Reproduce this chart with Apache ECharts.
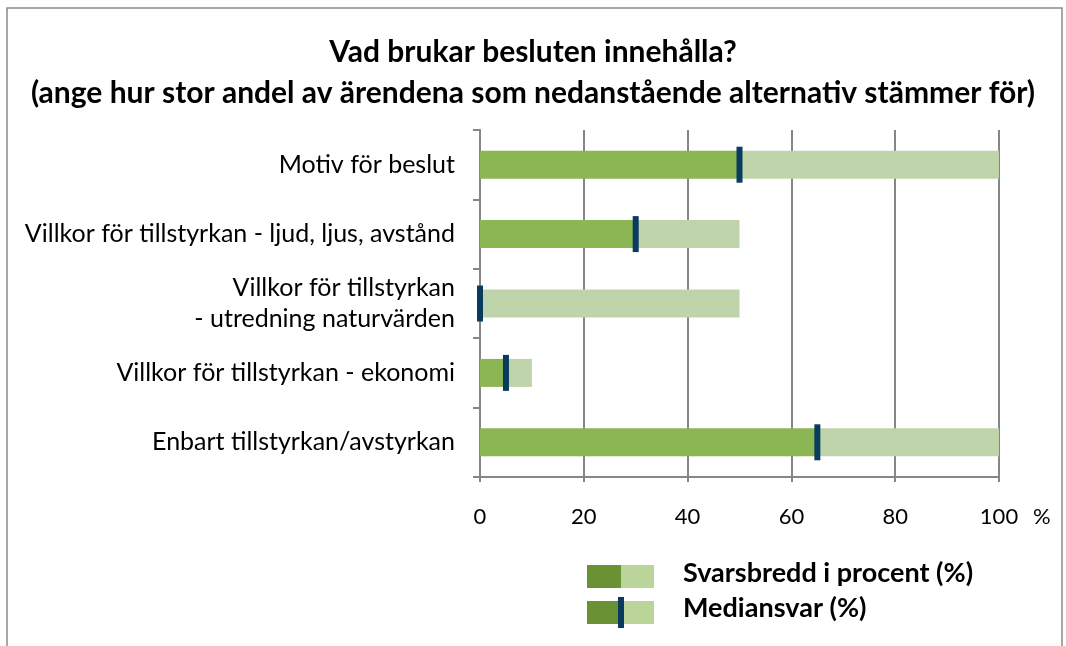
<!DOCTYPE html>
<html>
<head>
<meta charset="utf-8">
<script src="https://cdn.jsdelivr.net/npm/echarts@6/dist/echarts.min.js"></script>
<style>
  html, body { margin: 0; padding: 0; background: #fff; }
  #main { width: 1066px; height: 646px; }
</style>
</head>
<body>
<div id="main"></div>
<script>
// data
const categories = [
  'Motiv för beslut',
  'Villkor för tillstyrkan - ljud, ljus, avstånd',
  'Villkor för tillstyrkan\n- utredning naturvärden',
  'Villkor för tillstyrkan - ekonomi',
  'Enbart tillstyrkan/avstyrkan'
];
const medianValues = [50, 30, 0, 5, 65];
const maxValues = [100, 50, 50, 10, 100];
const xTicks = [0, 20, 40, 60, 80, 100];

const FONT = 'Lato, "Open Sans", sans-serif';
const darkGreen = '#8cb554';
const lightGreen = '#bfd4aa';
const navy = '#083b5e';

const chart = echarts.init(document.getElementById('main'));

const option = {
  animation: false,
  title: {
    text: 'Vad brukar besluten innehålla?\n(ange hur stor andel av ärendena som nedanstående alternativ stämmer för)',
    left: 'center',
    top: 27,
    textStyle: {
      fontFamily: FONT,
      fontSize: 30,
      fontWeight: 'bold',
      color: '#000',
      lineHeight: 41
    }
  },
  grid: { left: 480, right: 67, top: 130, bottom: 169 },
  xAxis: {
    type: 'value',
    min: 0,
    max: 100,
    interval: 20,
    axisLine: { show: true, lineStyle: { color: '#868686', width: 2 } },
    axisTick: { show: true, length: 5, lineStyle: { color: '#868686', width: 2 } },
    splitLine: { show: true, lineStyle: { color: '#868686', width: 2 } },
    axisLabel: {
      fontFamily: FONT, fontSize: 22, color: '#000', margin: 29,
      formatter: v => xTicks.includes(v) ? String(v) : ''
    }
  },
  yAxis: {
    type: 'category',
    data: categories,
    inverse: true,
    axisLine: { show: true, lineStyle: { color: '#868686', width: 2 } },
    axisTick: { show: true, length: 7, lineStyle: { color: '#868686', width: 2 } },
    axisLabel: {
      fontFamily: FONT, fontSize: 25, color: '#000', margin: 25,
      align: 'right', lineHeight: 31
    }
  },
  series: [
    {
      name: 'median',
      type: 'bar',
      stack: 'a',
      barWidth: 28,
      itemStyle: { color: darkGreen },
      data: medianValues
    },
    {
      name: 'range',
      type: 'bar',
      stack: 'a',
      barWidth: 28,
      itemStyle: { color: lightGreen },
      data: maxValues.map((m, i) => m - medianValues[i])
    },
    {
      name: 'Mediansvar',
      type: 'scatter',
      symbol: 'rect',
      symbolSize: [6, 36],
      itemStyle: { color: navy, opacity: 1 },
      z: 5,
      data: medianValues.map((v, i) => [v, categories[i]])
    }
  ],
  graphic: [
    // frame
    { type: 'rect', shape: { x: 7, y: 8, width: 1055, height: 660 },
      style: { fill: 'none', stroke: '#8a8a8a', lineWidth: 1.5 }, silent: true },
    // "%" unit
    { type: 'text', left: 1033, top: 506,
      style: { text: '%', fontFamily: FONT, fontSize: 22, fill: '#000' } },
    // legend
    { type: 'rect', shape: { x: 587, y: 565, width: 34, height: 23 }, style: { fill: '#6a9134' } },
    { type: 'rect', shape: { x: 621, y: 565, width: 33, height: 23 }, style: { fill: '#bbd49a' } },
    { type: 'rect', shape: { x: 587, y: 601, width: 34, height: 23 }, style: { fill: '#6a9134' } },
    { type: 'rect', shape: { x: 621, y: 601, width: 33, height: 23 }, style: { fill: '#bbd49a' } },
    { type: 'rect', shape: { x: 618, y: 597, width: 6, height: 31 }, style: { fill: navy } },
    { type: 'text', left: 683, top: 560,
      style: { text: 'Svarsbredd i procent (%)', fontFamily: FONT, fontSize: 27, fontWeight: 'bold', fill: '#000' } },
    { type: 'text', left: 683, top: 595,
      style: { text: 'Mediansvar (%)', fontFamily: FONT, fontSize: 27, fontWeight: 'bold', fill: '#000' } }
  ]
};

chart.setOption(option);
</script>
</body>
</html>
